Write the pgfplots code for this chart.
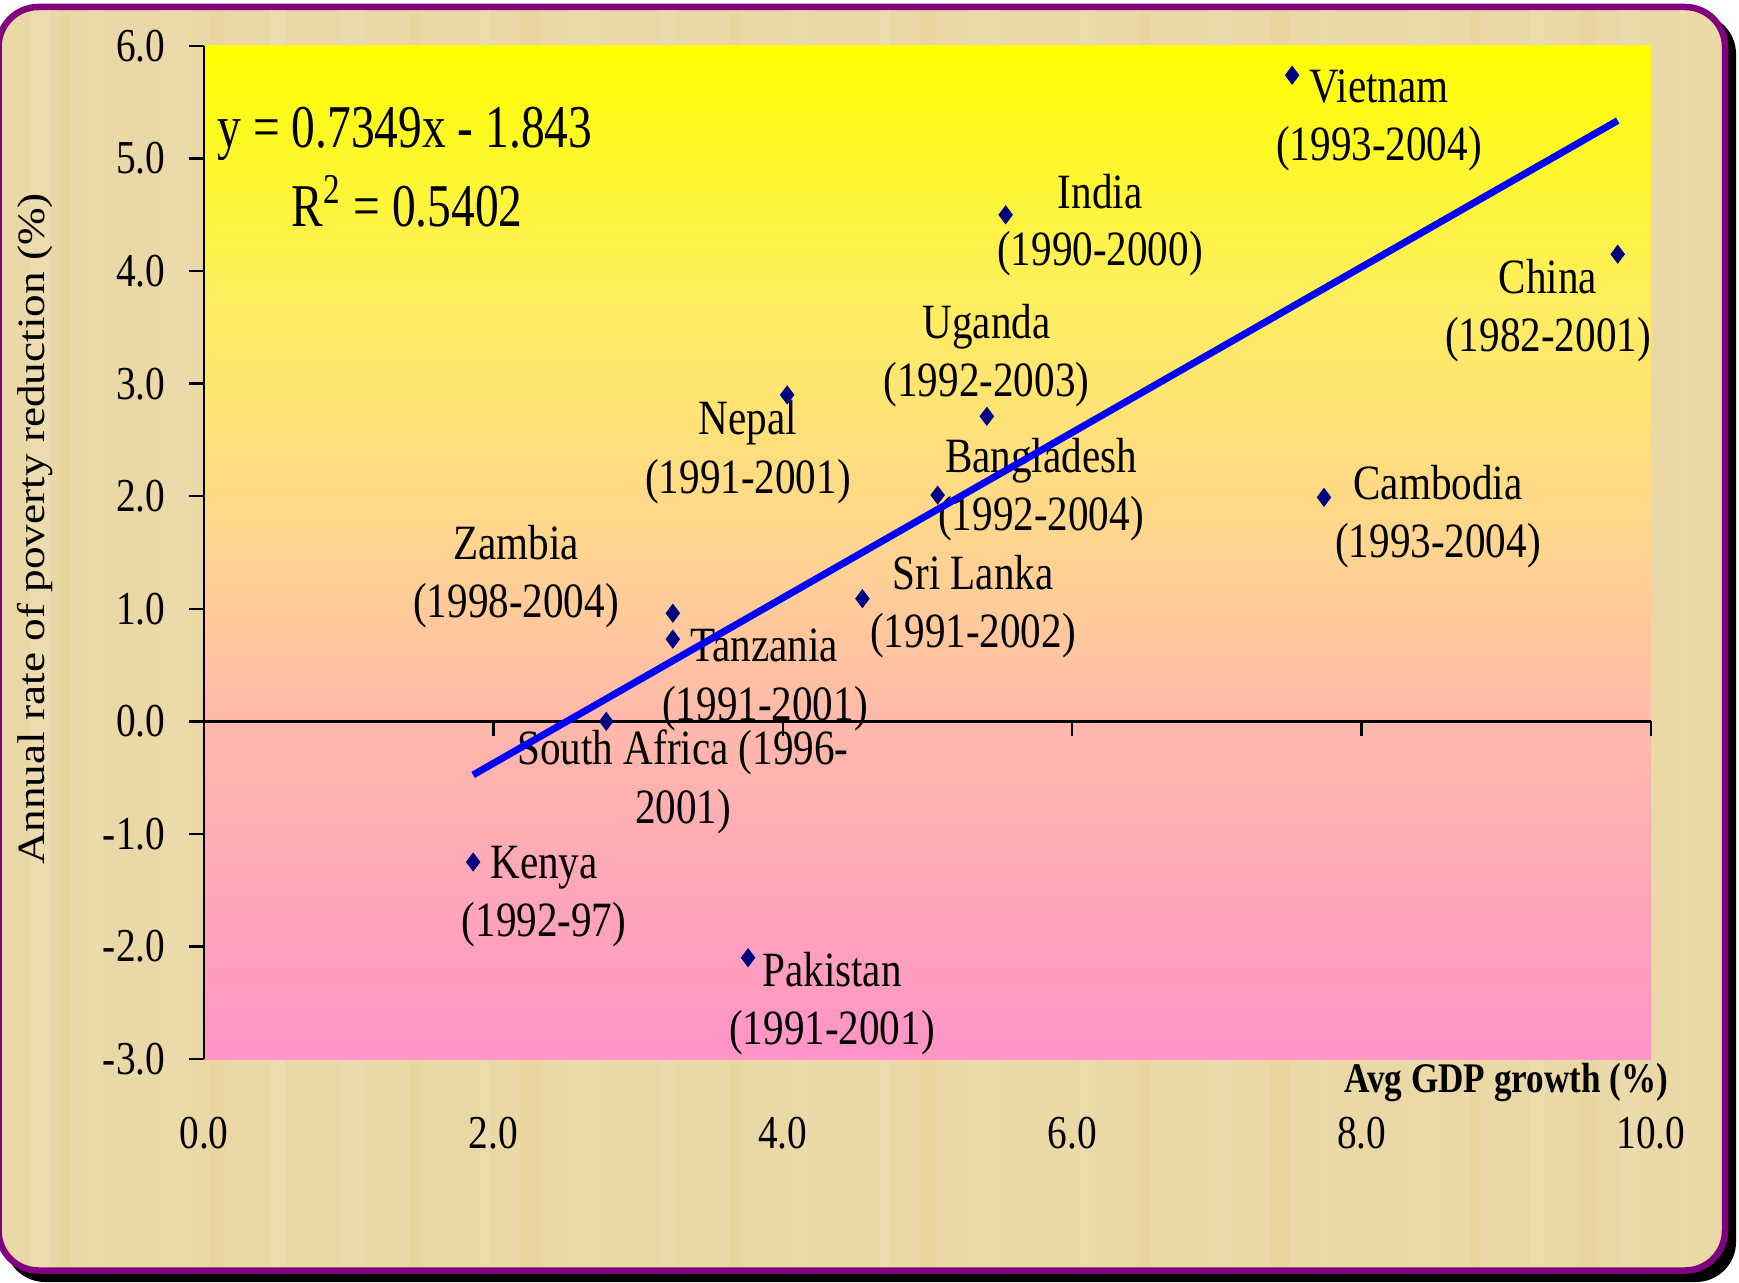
\documentclass[border=0pt]{standalone}
\usepackage{fontspec}
\setmainfont{Liberation Serif}
\usepackage{graphicx}
\usepackage{pgfplots}
\usepackage{pgfplotstable}
\pgfplotsset{compat=1.18}
\definecolor{navy}{RGB}{0,0,128}
\definecolor{frameP}{RGB}{128,0,128}
\definecolor{paper}{RGB}{234,217,166}
\definecolor{bgTop}{RGB}{255,255,0}
\definecolor{bgY2}{RGB}{255,238,95}
\definecolor{bgMid}{RGB}{255,212,145}
\definecolor{bgZero}{RGB}{255,185,170}
\definecolor{bgBot}{RGB}{255,148,200}
\pgfdeclareverticalshading{plotbg}{100bp}{color(0bp)=(bgBot); color(25bp)=(bgBot); color(41.7bp)=(bgZero); color(50bp)=(bgMid); color(62.5bp)=(bgY2); color(75bp)=(bgTop); color(100bp)=(bgTop)}
\newcommand{\sv}[1]{\scalebox{1}[1.2]{#1}}

\pgfplotstableread{
x y
7.52 5.74
5.54 4.50
9.77 4.15
4.03 2.90
5.41 2.71
5.07 2.01
7.74 1.99
4.55 1.09
3.24 0.96
3.24 0.73
2.78 0.00
1.86 -1.25
3.76 -2.10
}\pts

\begin{document}
\begin{tikzpicture}
\useasboundingbox (0,0) rectangle (173.9mm,128.2mm);
% shadow and frame
\fill[black, rounded corners=4mm] (0.5mm,0.0mm) rectangle (173.6mm,126.8mm);
\draw[frameP, line width=0.65mm, fill=paper, rounded corners=4mm] (-0.15mm,1.15mm) rectangle (172.5mm,127.5mm);
% subtle paper streaks
\begin{scope}
\clip[rounded corners=4mm] (0.2mm,1.5mm) rectangle (172.2mm,127.2mm);
\foreach \xx/\ww/\op in {3/2/0.10, 9/1.2/0.08, 16/3/0.06, 27/1.5/0.10, 34/2.5/0.07, 48/1/0.09, 57/3/0.06, 66/1.5/0.08, 79/2/0.07, 88/1/0.10, 97/3/0.06, 108/1.5/0.09, 121/2/0.07, 132/1/0.08, 141/3/0.06, 153/1.5/0.09, 162/2/0.08, 168/1/0.07}{
  \fill[white, opacity=\op] (\xx mm,0) rectangle ++(\ww mm,128.2mm);
}
\foreach \xx/\ww in {6/1, 21/1.5, 41/1, 52/2, 73/1, 92/1.5, 114/1, 127/2, 147/1, 158/1.5}{
  \fill[brown!70!yellow, opacity=0.06] (\xx mm,0) rectangle ++(\ww mm,128.2mm);
}
\end{scope}
% plot area background
\shade[shading=plotbg] (20.4mm,22.3mm) rectangle (165.1mm,123.6mm);

% data labels
\begin{scope}[every node/.style={anchor=base, inner sep=0pt}, font=\fontsize{11.7}{14}\selectfont]
\node at (137.9mm,117.9mm) {\sv{Vietnam}};
\node at (137.9mm,112.1mm) {\sv{(1993-2004)}};
\node at (110.0mm,107.35mm) {\sv{India}};
\node at (110.0mm,101.6mm) {\sv{(1990-2000)}};
\node at (154.8mm,98.8mm) {\sv{China}};
\node at (154.8mm,93.0mm) {\sv{(1982-2001)}};
\node at (98.65mm,94.3mm) {\sv{Uganda}};
\node at (98.65mm,88.5mm) {\sv{(1992-2003)}};
\node at (74.8mm,84.7mm) {\sv{Nepal}};
\node at (74.8mm,78.85mm) {\sv{(1991-2001)}};
\node at (104.1mm,80.95mm) {\sv{Bangladesh}};
\node at (104.1mm,75.1mm) {\sv{(1992-2004)}};
\node at (143.8mm,78.2mm) {\sv{Cambodia}};
\node at (143.8mm,72.4mm) {\sv{(1993-2004)}};
\node at (97.3mm,69.2mm) {\sv{Sri Lanka}};
\node at (97.3mm,63.4mm) {\sv{(1991-2002)}};
\node at (51.6mm,72.2mm) {\sv{Zambia}};
\node at (51.6mm,66.4mm) {\sv{(1998-2004)}};
\node at (76.4mm,62.0mm) {\sv{Tanzania}};
\node at (76.5mm,56.1mm) {\sv{(1991-2001)}};
\node at (68.3mm,51.7mm) {\sv{South Africa (1996-}};
\node at (68.3mm,45.8mm) {\sv{2001)}};
\node at (54.4mm,40.3mm) {\sv{Kenya}};
\node at (54.4mm,34.6mm) {\sv{(1992-97)}};
\node at (83.2mm,29.6mm) {\sv{Pakistan}};
\node at (83.2mm,23.8mm) {\sv{(1991-2001)}};
\end{scope}

% regression text
\node[anchor=base west, inner sep=0pt, font=\fontsize{13.5}{16}\selectfont] at (21.7mm,113.45mm) {\scalebox{1}[1.28]{y = 0.7349x - 1.843}};
\node[anchor=base west, inner sep=0pt, font=\fontsize{13.5}{16}\selectfont] at (29.1mm,105.5mm) {\scalebox{1}[1.28]{R\textsuperscript{2} = 0.5402}};

% axis titles
\node[rotate=90, anchor=base, inner sep=0pt, font=\fontsize{11}{13}\selectfont] at (4.4mm,75.3mm) {\scalebox{1.17}[1]{Annual rate of poverty reduction (\%)}};
\node[anchor=base east, inner sep=0pt, font=\bfseries\fontsize{10}{12}\selectfont] at (166.9mm,19.0mm) {\sv{Avg GDP growth (\%)}};

\begin{axis}[
  at={(20.4mm,22.3mm)}, anchor=south west,
  scale only axis, width=144.7mm, height=101.3mm,
  xmin=0, xmax=10, ymin=-3, ymax=6,
  clip=false,
  axis x line*=middle, axis y line*=left,
  hide obscured x ticks=false,
  axis line style={black, line width=0.25mm},
  every tick/.style={black, line width=0.25mm},
  major tick length=1.5mm,
  tick align=outside,
  xtick={0,2,4,6,8,10},
  xticklabels={\sv{0.0},\sv{2.0},\sv{4.0},\sv{6.0},\sv{8.0},\sv{10.0}},
  ytick={-3,-2,-1,0,1,2,3,4,5,6},
  yticklabels={\sv{-3.0},\sv{-2.0},\sv{-1.0},\sv{0.0},\sv{1.0},\sv{2.0},\sv{3.0},\sv{4.0},\sv{5.0},\sv{6.0}},
  ticklabel style={font=\fontsize{11.2}{13}\selectfont},
  yticklabel style={inner sep=0pt, xshift=-2.3mm},
  xticklabel style={anchor=base, inner sep=0pt, yshift=-41.2mm},
]
\addplot[blue, line width=0.7mm] coordinates {(1.86,-0.476) (9.77,5.337)};
\addplot[only marks, mark=diamond*, mark size=0.85mm, color=navy, mark options={fill=navy, draw=navy}] table[x=x, y=y] {\pts};
\end{axis}
\end{tikzpicture}
\end{document}
